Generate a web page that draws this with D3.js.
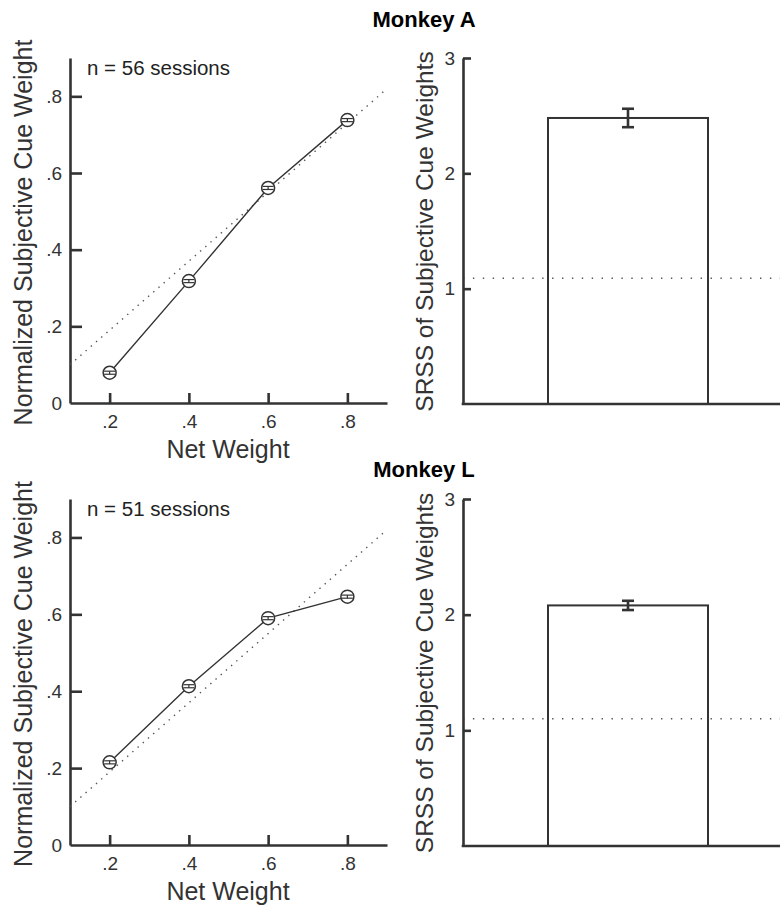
<!DOCTYPE html>
<html>
<head>
<meta charset="utf-8">
<script src="https://cdn.jsdelivr.net/npm/d3@7"></script>
<style>
  body { margin: 0; background: #fff; }
  svg { display: block; font-family: Arial, "Liberation Sans", Helvetica, sans-serif; }
</style>
</head>
<body>
<div id="chart"></div>
<script>
// values
const monkeys = ['Monkey A', 'Monkey L'];
const sessions = [56, 51];
const netWeight = [0.2, 0.4, 0.6, 0.8];
const cueWeightA = [0.079, 0.318, 0.561, 0.738];
const cueErrA = [0.004, 0.004, 0.004, 0.004];
const cueWeightL = [0.215, 0.413, 0.590, 0.646];
const cueErrL = [0.004, 0.004, 0.004, 0.004];
const refLineX = [0.1, 0.9];
const refLineY = [0.1, 0.82];
const srss = [2.48, 2.08];
const srssErr = [0.08, 0.04];
const srssRef = [1.09, 1.10];
const leftTicksX = [0.2, 0.4, 0.6, 0.8];
const leftTicksY = [0, 0.2, 0.4, 0.6, 0.8];
const rightTicksY = [1, 2, 3];

const width = 780, height = 907;
const ink = '#333';
const fontFam = 'Arial, "Liberation Sans", Helvetica, sans-serif';

const svg = d3.select('#chart').append('svg')
  .attr('width', width)
  .attr('height', height);

const fmtDec = d => d === 0 ? '0' : d3.format('.1f')(d).replace(/^0/, '');

const rows = [
  { n: sessions[0], y: cueWeightA, err: cueErrA, top: 58, bottom: 403, titleY: 27 },
  { n: sessions[1], y: cueWeightL, err: cueErrL, top: 499, bottom: 845, titleY: 477 }
];

function styleAxis(a) {
  a.select('.domain').attr('stroke', ink).attr('stroke-width', 2.6);
  a.selectAll('.tick line').attr('stroke', ink).attr('stroke-width', 2.6);
  a.selectAll('.tick text').attr('font-size', 19).attr('fill', ink)
    .attr('font-family', fontFam);
}

rows.forEach((row, i) => {
  // title
  svg.append('text')
    .attr('x', 424).attr('y', row.titleY)
    .attr('text-anchor', 'middle')
    .attr('font-size', 22).attr('font-weight', 'bold')
    .attr('fill', '#000')
    .text(monkeys[i]);

  // ---- left: line plot ----
  const x = d3.scaleLinear().domain([0.1, 0.9]).range([70, 387]);
  const y = d3.scaleLinear().domain([0, 0.9]).range([row.bottom, row.top]);
  const g = svg.append('g');

  const xAxis = g.append('g')
    .attr('transform', `translate(0,${row.bottom})`)
    .call(d3.axisBottom(x).tickValues(leftTicksX).tickFormat(fmtDec)
      .tickSize(-10).tickSizeOuter(0).tickPadding(12));
  const yAxis = g.append('g')
    .attr('transform', `translate(70,0)`)
    .call(d3.axisLeft(y).tickValues(leftTicksY).tickFormat(fmtDec)
      .tickSize(-12).tickSizeOuter(0).tickPadding(8));
  styleAxis(xAxis);
  styleAxis(yAxis);
  yAxis.selectAll('.tick').filter(d => d === 0).select('line').remove();

  g.append('text')
    .attr('x', 228).attr('y', row.bottom + 55)
    .attr('text-anchor', 'middle')
    .attr('font-size', 25).attr('fill', ink)
    .text('Net Weight');
  g.append('text')
    .attr('transform', `translate(32,${(row.top + row.bottom) / 2 + 2}) rotate(-90)`)
    .attr('text-anchor', 'middle')
    .attr('font-size', 25).attr('fill', ink)
    .text('Normalized Subjective Cue Weight');
  g.append('text')
    .attr('x', 87).attr('y', row.top + 17)
    .attr('font-size', 20.5).attr('fill', '#222')
    .text(`n = ${row.n} sessions`);

  // reference dotted line
  g.append('line')
    .attr('x1', x(refLineX[0])).attr('y1', y(refLineY[0]))
    .attr('x2', x(refLineX[1])).attr('y2', y(refLineY[1]))
    .attr('stroke', '#555').attr('stroke-width', 1.4)
    .attr('stroke-dasharray', '1.4,5.5');

  const pts = netWeight.map((d, k) => ({ x: d, y: row.y[k], e: row.err[k] }));
  g.append('path')
    .datum(pts)
    .attr('fill', 'none')
    .attr('stroke', ink).attr('stroke-width', 1.4)
    .attr('d', d3.line().x(d => x(d.x)).y(d => y(d.y)));

  const mk = g.selectAll('.mk').data(pts).enter().append('g');
  mk.append('circle')
    .attr('cx', d => x(d.x)).attr('cy', d => y(d.y)).attr('r', 6.5)
    .attr('fill', '#fff').attr('stroke', ink).attr('stroke-width', 1.5);
  mk.append('line')
    .attr('x1', d => x(d.x)).attr('x2', d => x(d.x))
    .attr('y1', d => y(d.y - d.e)).attr('y2', d => y(d.y + d.e))
    .attr('stroke', ink).attr('stroke-width', 1.2);
  [-1, 1].forEach(s => {
    mk.append('line')
      .attr('x1', d => x(d.x) - 5.5).attr('x2', d => x(d.x) + 5.5)
      .attr('y1', d => y(d.y + s * d.e)).attr('y2', d => y(d.y + s * d.e))
      .attr('stroke', ink).attr('stroke-width', 1.2);
  });

  // ---- right: bar plot ----
  const xb = d3.scaleLinear().domain([0.175, 1.76]).range([463, 780]);
  const yb = d3.scaleLinear().domain([0, 3]).range([row.bottom + 1, row.top]);
  const gb = svg.append('g');

  gb.append('line')
    .attr('x1', xb(0.175)).attr('x2', xb(1.76))
    .attr('y1', yb(srssRef[i])).attr('y2', yb(srssRef[i]))
    .attr('stroke', '#555').attr('stroke-width', 1.4)
    .attr('stroke-dasharray', '1.4,8.5');

  gb.append('rect')
    .attr('x', xb(0.6)).attr('width', xb(1.4) - xb(0.6))
    .attr('y', yb(srss[i])).attr('height', yb(0) - yb(srss[i]))
    .attr('fill', 'none').attr('stroke', ink).attr('stroke-width', 2);

  const yAxisB = gb.append('g')
    .attr('transform', `translate(463,0)`)
    .call(d3.axisLeft(yb).tickValues(rightTicksY).tickFormat(d3.format('d'))
      .tickSize(-8).tickSizeOuter(0).tickPadding(8));
  styleAxis(yAxisB);
  gb.append('line')
    .attr('x1', xb(0.175) - 1.3).attr('x2', xb(1.76))
    .attr('y1', yb(0)).attr('y2', yb(0))
    .attr('stroke', ink).attr('stroke-width', 2.6);

  // error bar
  const cx = xb(1);
  gb.append('line')
    .attr('x1', cx).attr('x2', cx)
    .attr('y1', yb(srss[i] - srssErr[i])).attr('y2', yb(srss[i] + srssErr[i]))
    .attr('stroke', ink).attr('stroke-width', 2.6);
  [-1, 1].forEach(s => {
    gb.append('line')
      .attr('x1', cx - 6).attr('x2', cx + 6)
      .attr('y1', yb(srss[i] + s * srssErr[i])).attr('y2', yb(srss[i] + s * srssErr[i]))
      .attr('stroke', ink).attr('stroke-width', 2.6);
  });

  gb.append('text')
    .attr('transform', `translate(433,${(row.top + row.bottom) / 2 + 1}) rotate(-90)`)
    .attr('text-anchor', 'middle')
    .attr('font-size', 24.5).attr('fill', ink)
    .text('SRSS of Subjective Cue Weights');
});
</script>
</body>
</html>
